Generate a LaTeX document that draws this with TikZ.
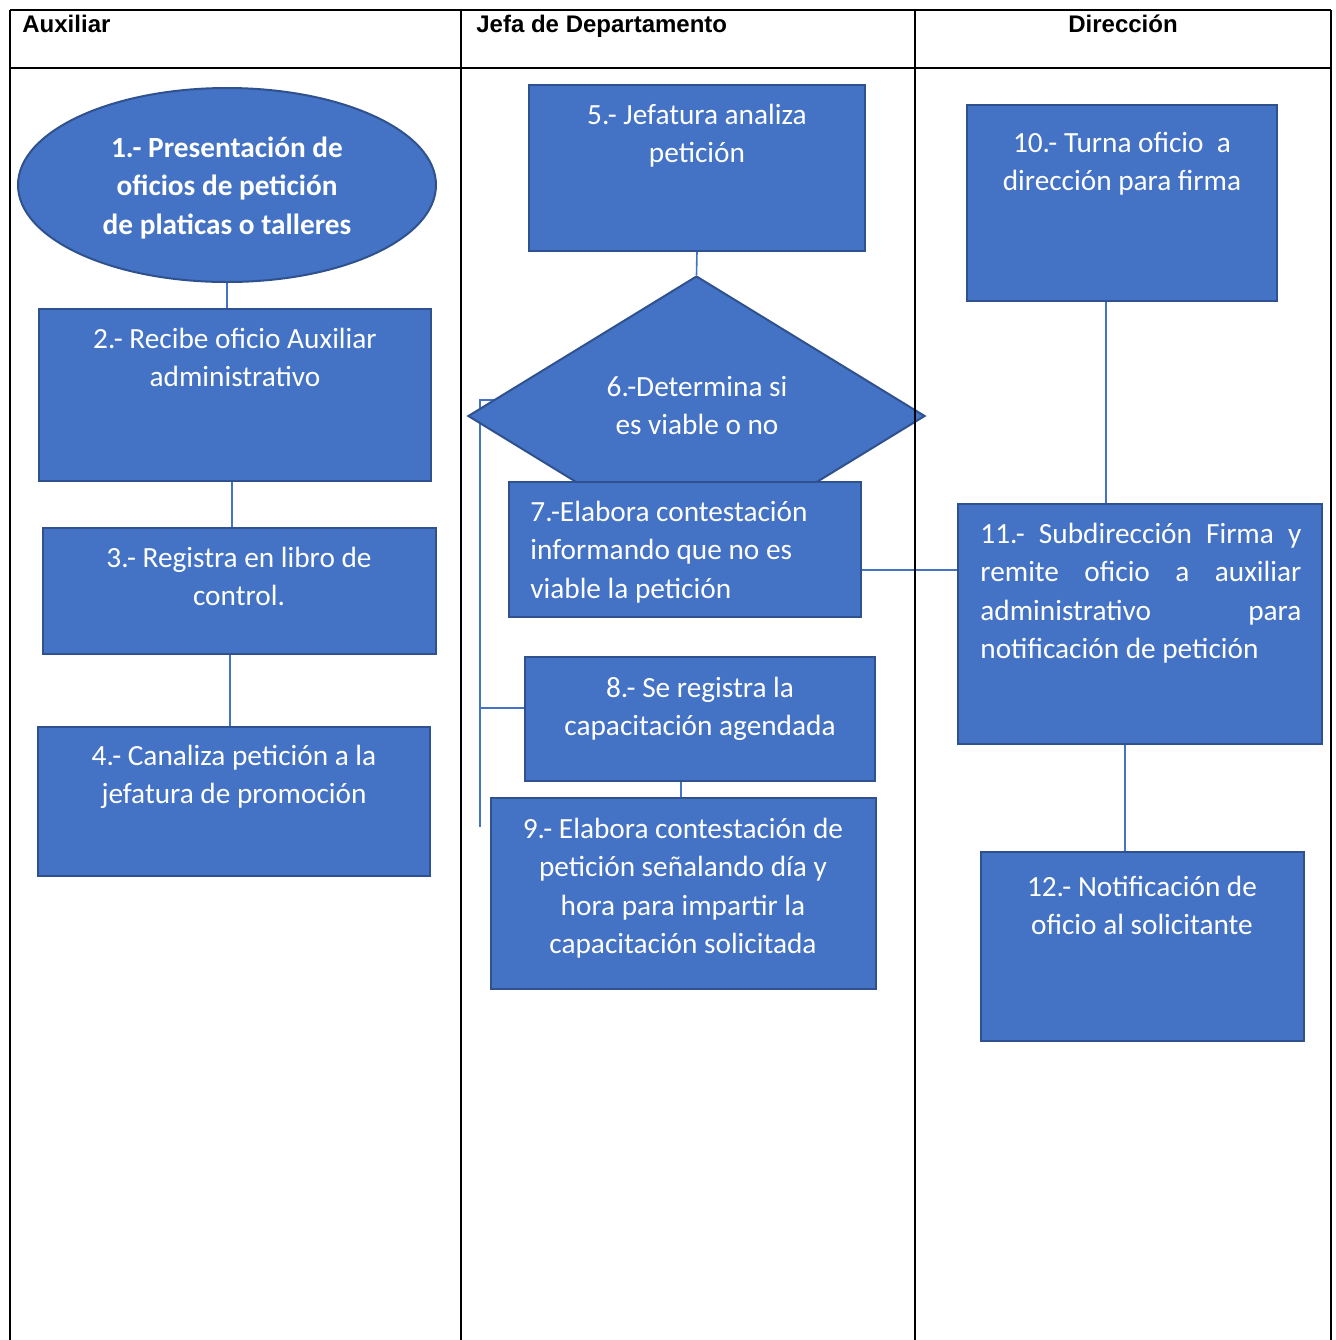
\documentclass[tikz,border=0pt]{standalone}
\usepackage{fontspec}
\setmainfont{Carlito}
\newfontfamily\headfont{Liberation Sans}
\usetikzlibrary{positioning,shapes.geometric,backgrounds}
\definecolor{stepblue}{HTML}{4472C4}
\definecolor{stepedge}{HTML}{2F528F}

% one full-width line of the justified block
\newcommand{\fullline}[1]{\makebox[160.5pt][s]{#1}}

\begin{document}
\begin{tikzpicture}[
  x=0.5pt, y=-0.5pt,
  stepbox/.style={draw=stepedge, line width=1pt, fill=stepblue, inner sep=0pt},
  boxsize/.style 2 args={minimum width=#1*0.5pt, minimum height=#2*0.5pt},
  steptext/.style={text=white, anchor=north, align=center, inner sep=0pt,
                   font=\fontsize{14.65}{19.25}\selectfont},
  link/.style={draw=stepblue, line width=0.8pt},
  lane/.style={line width=1pt},
  head/.style={font=\headfont\bfseries\fontsize{12}{14}\selectfont, inner sep=0pt}
]
  \useasboundingbox (0,0) rectangle (1336,1340);

  % steps, lane by lane
  \node[stepbox, ellipse, boxsize={418}{194}] (p1) at (227,185) {};
  \node[stepbox, boxsize={392}{172}] (p2) at (235,395) {};
  \node[stepbox, boxsize={393}{126}] (p3) at (239.5,591) {};
  \node[stepbox, boxsize={392}{149}] (p4) at (234,801.5) {};

  \node[stepbox, boxsize={336}{166}] (p5) at (697,168) {};
  \node[stepbox, diamond, boxsize={457}{280}] (p6) at (696.5,416) {};
  \node[stepbox, boxsize={352}{135}] (p7) at (685,549.5) {};
  \node[stepbox, boxsize={350}{124}] (p8) at (700,719) {};
  \node[stepbox, boxsize={385}{191}] (p9) at (683.5,893.5) {};

  \node[stepbox, boxsize={310}{196}] (p10) at (1122,203) {};
  \node[stepbox, boxsize={364}{240}] (p11) at (1140,624) {};
  \node[stepbox, boxsize={323}{189}] (p12) at (1142.5,946.5) {};

  % connectors run under the shapes
  \coordinate (forktop) at (480,400);
  \coordinate (forkend) at (480,827);
  \begin{scope}[on background layer]
    \draw[link] (p1.south) -- (p1.south |- p2.north);
    \draw[link] ([xshift=-1.5pt]p2.south) -- ([xshift=-1.5pt]p2.south |- p3.north);
    \draw[link] ([xshift=-4.75pt]p3.south) -- ([xshift=-4.75pt]p3.south |- p4.north);

    \draw[link] (p5.south) -- (p6.north);
    \draw[link] (forktop -| p6) -- (forktop) -- (forkend);
    \draw[link] ([yshift=5.5pt]p8.west) -- ([yshift=5.5pt]p8.west -| forktop);
    \draw[link] ([xshift=-9.5pt]p8.south) -- ([xshift=-9.5pt]p8.south |- p9.north);
    \draw[link] ([yshift=-10.25pt]p7.east) -- ([yshift=-10.25pt]p7.east -| p11.west);

    \draw[link] ([xshift=-8pt]p10.south) -- ([xshift=-8pt]p10.south |- p11.north);
    \draw[link] ([xshift=-7.5pt]p11.south) -- ([xshift=-7.5pt]p11.south |- p12.north);
  \end{scope}

  % swimlane grid
  \draw[lane] (10,10) -- (1331,10);
  \draw[lane] (10,68) -- (1331,68);
  \foreach \x in {10,461,915,1331}
    \draw[lane] (\x,10) -- (\x,1340);

  \node[head, anchor=base west] (hAux) at (22,32) {Auxiliar};
  \node[head, anchor=base west] (hJefa) at (476,32) {Jefa de Departamento};
  \node[head, anchor=base] (hDir) at (1123,32) {Dirección};

  % texts
  \node[steptext, font=\fontsize{14.65}{19.25}\selectfont\bfseries] (t1) at (227,130)
    {\strut 1.- Presentación de\\oficios de petición\\de platicas o talleres};
  \node[steptext] (t2) at (235,321) {\strut 2.- Recibe oficio Auxiliar\\administrativo};
  \node[steptext] (t3) at (239,540) {\strut 3.- Registra en libro de\\control.};
  \node[steptext] (t4) at (234,738) {\strut 4.- Canaliza petición a la\\jefatura de promoción};

  \node[steptext] (t5) at (697,97) {\strut 5.- Jefatura analiza\\petición};
  \node[steptext] (t6) at (697,369) {\strut 6.-Determina si\\es viable o no};
  \node[steptext, anchor=north west, align=left] (t7) at (530,494)
    {\strut 7.-Elabora contestación\\informando que no es\\viable la petición};
  \node[steptext] (t8) at (700,670) {\strut 8.- Se registra la\\capacitación agendada};
  \node[steptext] (t9) at (683,811)
    {\strut 9.- Elabora contestación de\\petición señalando día y\\hora para impartir la\\capacitación solicitada};

  \node[steptext] (t10) at (1122,125) {\strut 10.- Turna oficio \ a\\dirección para firma};
  \node[steptext, anchor=north west, align=left] (t11) at (980,516)
    {\strut\fullline{11.- Subdirección Firma y}\\\fullline{remite oficio a auxiliar}\\
     \fullline{administrativo para}\\notificación de petición};
  \node[steptext] (t12) at (1142,869) {\strut 12.- Notificación de\\oficio al solicitante};
\end{tikzpicture}
\end{document}
